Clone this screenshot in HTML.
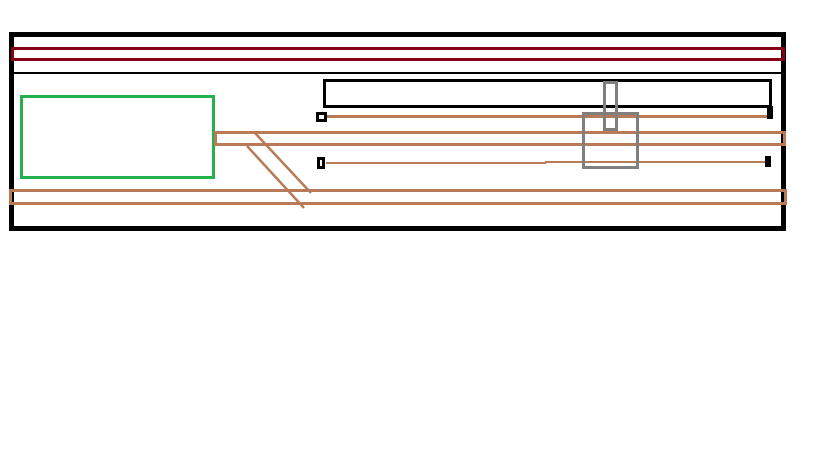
<!DOCTYPE html>
<html><head><style>html,body{margin:0;padding:0;background:#fff;width:819px;height:460px;overflow:hidden}</style></head>
<body>
<svg width="819" height="460" viewBox="0 0 819 460" xmlns="http://www.w3.org/2000/svg" shape-rendering="crispEdges">
<rect x="11.5" y="34.5" width="772" height="194" fill="none" stroke="#000" stroke-width="5"/>
<rect x="12.5" y="48.5" width="771" height="11" fill="none" stroke="#880015" stroke-width="3"/>
<rect x="14" y="72" width="768" height="2" fill="#000"/>
<rect x="21.5" y="96.5" width="192" height="81" fill="none" stroke="#22b14c" stroke-width="3"/>
<rect x="324.5" y="80.5" width="446" height="26" fill="none" stroke="#000" stroke-width="3"/>
<rect x="767" y="106" width="6" height="13" fill="#000"/>
<rect x="326" y="115" width="441" height="3" fill="#b97a57"/>
<rect x="317.5" y="113.5" width="8" height="7" fill="none" stroke="#000" stroke-width="3"/>
<rect x="215.5" y="132.5" width="569" height="12" fill="none" stroke="#b97a57" stroke-width="3"/>
<rect x="326" y="162" width="220" height="2" fill="#b97a57"/>
<rect x="545" y="161" width="220" height="2" fill="#b97a57"/>
<rect x="318.5" y="158.5" width="5" height="9" fill="none" stroke="#000" stroke-width="3"/>
<rect x="765" y="156" width="6" height="11" fill="#000"/>
<rect x="10.5" y="190.5" width="775" height="13" fill="none" stroke="#b97a57" stroke-width="3"/>
<g shape-rendering="auto" stroke="#b97a57" stroke-width="2.5">
<line x1="255" y1="133" x2="311" y2="193"/>
<line x1="247" y1="146" x2="304" y2="208"/>
</g>
<rect x="583.5" y="113.5" width="54" height="54" fill="none" stroke="#7f7f7f" stroke-width="3"/>
<rect x="604.5" y="82.5" width="12" height="47" fill="none" stroke="#7f7f7f" stroke-width="3"/>
</svg>
</body></html>
